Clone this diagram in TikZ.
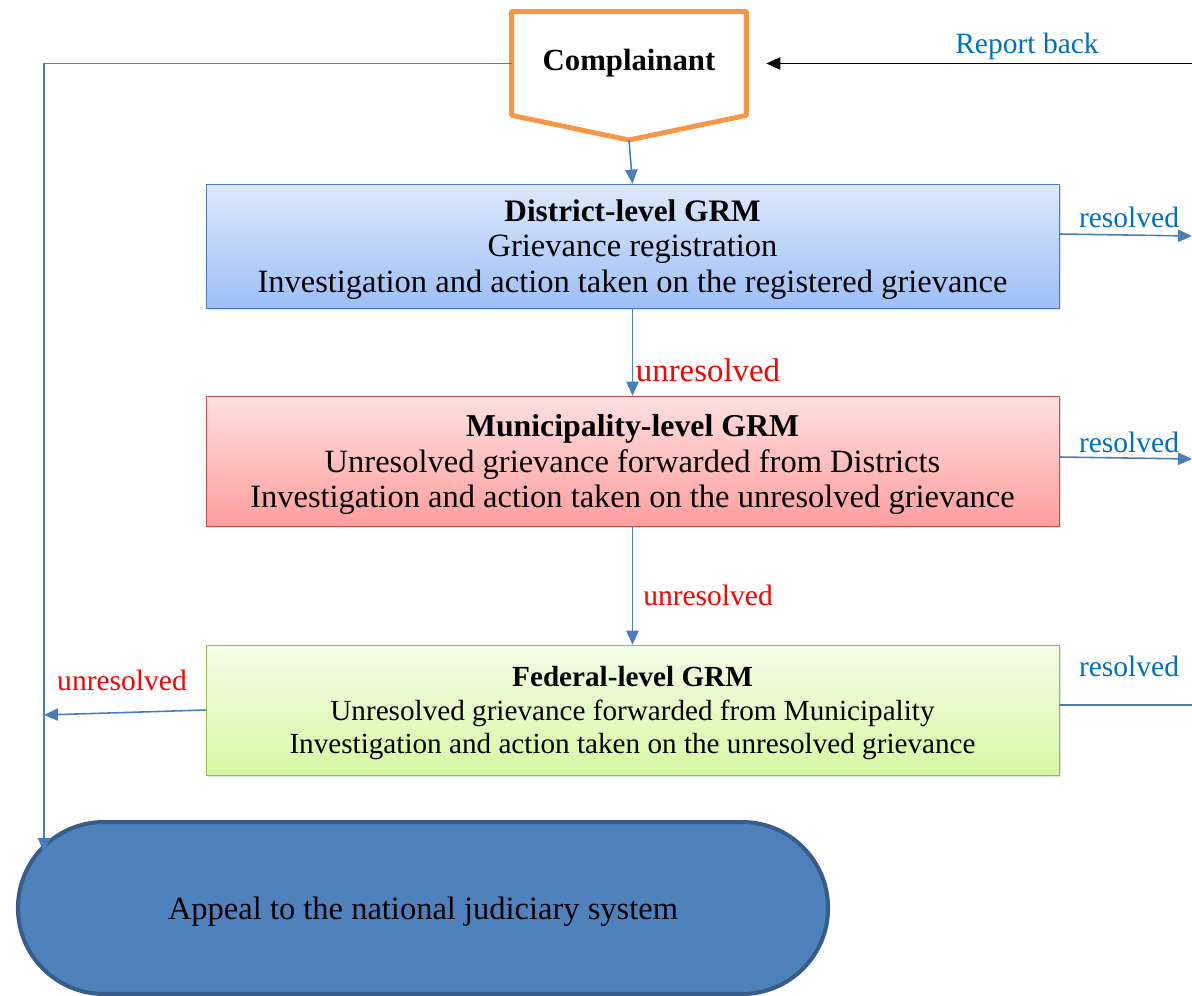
\documentclass[tikz,border=0pt]{standalone}
\usepackage{fontspec}
\setmainfont{Liberation Serif}
\usepackage{tikz}
\usetikzlibrary{arrows.meta,shapes.misc,shadows}

\definecolor{conncol}{HTML}{4A7EBB}
\definecolor{labblue}{HTML}{0070C0}
\definecolor{labred}{HTML}{FF0000}
\definecolor{cmporange}{HTML}{F79646}

\tikzset{
  conn/.style={draw=conncol, line width=0.9pt},
  tip/.style={-{Triangle[length=8pt,width=7pt]}},
  grmbox/.style={rectangle, minimum width=17.06cm, align=center, text depth=0pt,
    font=\fontsize{18.5}{20.4}\selectfont,
    drop shadow={opacity=0.25, shadow xshift=1.2pt, shadow yshift=-1.2pt}},
  reslab/.style={text=labblue, font=\fontsize{16.8}{19}\selectfont},
  unreslab/.style={text=labred, font=\fontsize{16.8}{19}\selectfont}
}

\begin{document}
\begin{tikzpicture}[x=0.02cm, y=-0.02cm]
\useasboundingbox (0,0) rectangle (1192,996);

\node[minimum width=4.68cm, minimum height=2.06cm, inner sep=0pt,
  font=\fontsize{17.5}{21}\selectfont\bfseries] (cmp) at (629,63.5) {Complainant};
\coordinate (cmptip) at (629,140);
\draw[cmporange, line width=2.8pt, line join=round]
  (cmp.north west) -- (cmp.north east) -- (cmp.south east) -- (cmptip)
  -- (cmp.south west) -- cycle;

\node[grmbox, minimum height=2.48cm, draw=conncol, top color={rgb,255:red,221;green,233;blue,252},
  bottom color={rgb,255:red,157;green,191;blue,246}] (district) at (632.5,246)
  {\textbf{\fontsize{17.8}{20.4}\selectfont District-level GRM}\\ Grievance registration\\
   Investigation and action taken on the registered grievance};
\node[grmbox, minimum height=2.6cm, draw={rgb,255:red,192;green,80;blue,77},
  top color={rgb,255:red,255;green,224;blue,224},
  bottom color={rgb,255:red,255;green,158;blue,158}] (munic) at (632.5,461)
  {\textbf{\fontsize{18.1}{20.4}\selectfont Municipality-level GRM}\\ Unresolved grievance forwarded from Districts\\
   Investigation and action taken on the unresolved grievance};
\node[grmbox, minimum height=2.6cm, draw={rgb,255:red,155;green,187;blue,89},
  top color={rgb,255:red,244;green,252;blue,232},
  bottom color={rgb,255:red,214;green,249;blue,163},
  font=\fontsize{16.6}{19}\selectfont] (federal) at (632.5,710)
  {\textbf{Federal-level GRM}\\ Unresolved grievance forwarded from Municipality\\
   Investigation and action taken on the unresolved grievance};

\node[rounded rectangle, minimum width=16.44cm, minimum height=3.44cm,
  fill={rgb,255:red,79;green,129;blue,189}, draw={rgb,255:red,56;green,93;blue,138},
  line width=2.3pt, text depth=0pt, font=\fontsize{18.5}{20}\selectfont] (appeal) at (423,908)
  {Appeal to the national judiciary system};

\coordinate (rb) at (1192,63.5);
\coordinate (lft) at (44,63.5);
\coordinate (apin) at (44,852);
\coordinate (fedout) at (44,715);
\coordinate (res1) at (1192,236);
\coordinate (res2) at (1192,459);
\coordinate (res3) at (1192,705);

\draw[conn, tip] (cmp.west) -- (lft) -- (apin);
\draw[-{Triangle[length=8pt,width=7pt]}, line width=0.9pt, shorten >=0.4cm] (rb) -- (cmp.east);
\node[reslab] (rbl) at (1027,46) {Report back};

\draw[conn, tip] (cmptip) -- (district.north);
\draw[conn, tip] (district.south) -- (munic.north);
\node[unreslab, font=\fontsize{18.7}{21}\selectfont] (ur1) at (708,370) {unresolved};
\draw[conn, tip] (munic.south) -- (federal.north);
\node[unreslab] (ur2) at (708,595) {unresolved};
\draw[conn, tip] (federal.west) -- (fedout);
\node[unreslab] (ur3) at (122,680) {unresolved};

\draw[conn, tip] ([yshift=0.24cm]district.east) -- (res1);
\node[reslab] (rs1) at (1129,217) {resolved};
\draw[conn, tip] ([yshift=0.08cm]munic.east) -- (res2);
\node[reslab] (rs2) at (1129,442) {resolved};
\draw[conn] ([yshift=0.1cm]federal.east) -- (res3);
\node[reslab] (rs3) at (1129,666) {resolved};
\end{tikzpicture}
\end{document}
